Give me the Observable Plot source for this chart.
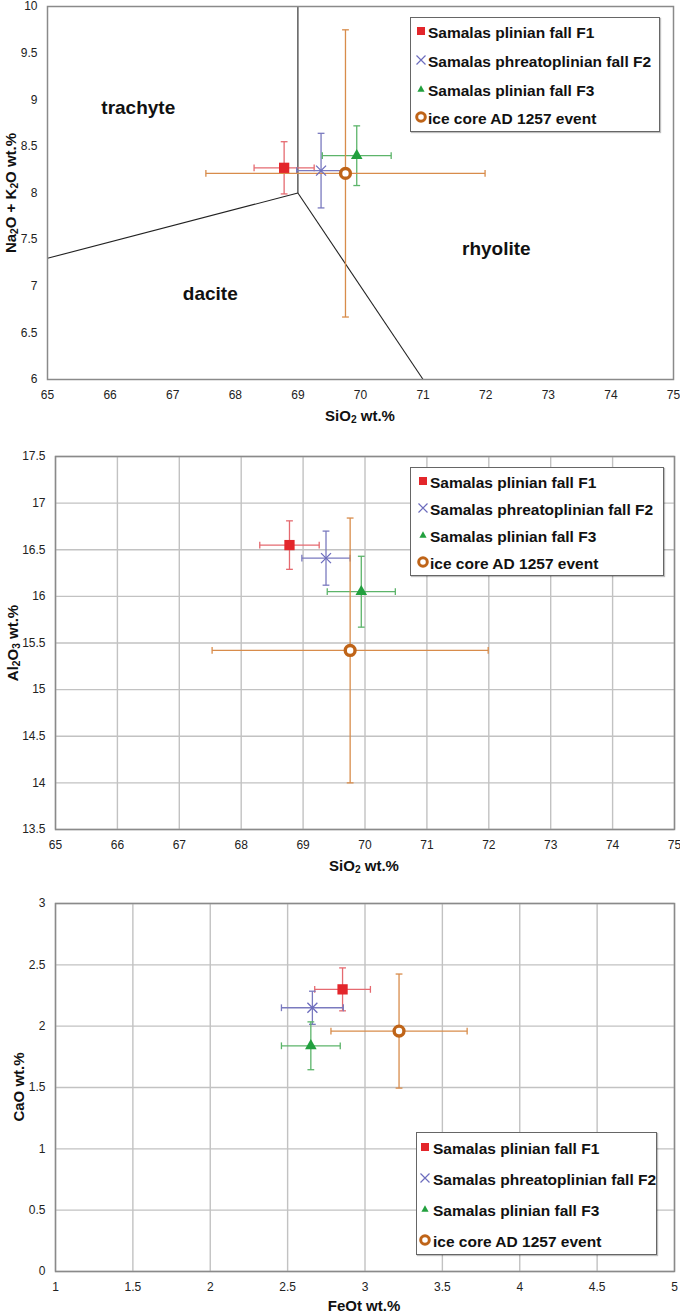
<!DOCTYPE html>
<html>
<head>
<meta charset="utf-8">
<script src="https://cdn.jsdelivr.net/npm/d3@7"></script>
<script src="https://cdn.jsdelivr.net/npm/@observablehq/plot@0.6"></script>
<style>
  html, body { margin: 0; padding: 0; background: #fff; }
  #root { position: relative; width: 680px; height: 1313px; font-family: "Liberation Sans", Arial, sans-serif; }
  .panel { position: absolute; left: 0; }
  .title { position: absolute; font-weight: bold; font-size: 15px; white-space: nowrap; color: #111; transform: translate(-50%, -50%); }
  .ytitle { transform: translate(-50%, -50%) rotate(-90deg); }
  sub { font-size: 0.68em; line-height: 0; vertical-align: -0.22em; }
  .legend { position: absolute; background: #fff; border: 1.5px solid #666; box-shadow: 1px 1px 1px rgba(0,0,0,0.25); box-sizing: border-box; }
  .entry { position: absolute; font-weight: bold; font-size: 15.5px; white-space: nowrap; color: #111; transform: translateY(-50%); }
  .mk { position: absolute; transform: translate(-50%, -50%); }
</style>
</head>
<body>
<div id="root"></div>
<script>
// ---------- data ----------
const series = ["Samalas plinian fall F1", "Samalas phreatoplinian fall F2", "Samalas plinian fall F3", "ice core AD 1257 event"];
const markerSymbols = ["square", "times", "triangle", "circle"];
const markerColors = ["#e3262b", "#6c6cbd", "#22a03e", "#bf6418"];
const errorColors = ["#e56a70", "#7a7abf", "#5cb46a", "#d88c4b"];

// Panel 1: SiO2 vs Na2O + K2O
const sio2 = [68.78, 69.37, 69.94, 69.76];
const sio2Err = [0.48, 0.39, 0.55, 2.23];
const alkali = [8.27, 8.24, 8.40, 8.21];
const alkaliErr = [0.28, 0.40, 0.32, 1.54];

// Panel 2: SiO2 vs Al2O3
const al2o3 = [16.55, 16.41, 16.05, 15.42];
const al2o3Err = [0.26, 0.29, 0.38, 1.42];

// Panel 3: FeOt vs CaO
const feot = [2.855, 2.66, 2.65, 3.22];
const feotErr = [0.18, 0.20, 0.19, 0.44];
const cao = [2.30, 2.15, 1.84, 1.96];
const caoErr = [0.175, 0.135, 0.195, 0.465];

// TAS field boundaries (segments) and field names
const boundaryX1 = [65, 69, 69];
const boundaryY1 = [7.3, 8, 8];
const boundaryX2 = [69, 71, 69];
const boundaryY2 = [8, 6, 10];
const fieldNames = ["trachyte", "dacite", "rhyolite"];
const fieldX = [66.45, 67.6, 72.17];
const fieldY = [8.91, 6.92, 7.40];

// ticks
const sio2Ticks = [65, 66, 67, 68, 69, 70, 71, 72, 73, 74, 75];
const alkaliTicks = [6, 6.5, 7, 7.5, 8, 8.5, 9, 9.5, 10];
const al2o3Ticks = [13.5, 14, 14.5, 15, 15.5, 16, 16.5, 17, 17.5];
const feotTicks = [1, 1.5, 2, 2.5, 3, 3.5, 4, 4.5, 5];
const caoTicks = [0, 0.5, 1, 1.5, 2, 2.5, 3];

// ---------- helpers ----------
const capV = { draw(ctx, size) { const h = Math.sqrt(size / Math.PI); ctx.moveTo(0, -h); ctx.lineTo(0, h); } };
const capH = { draw(ctx, size) { const h = Math.sqrt(size / Math.PI); ctx.moveTo(-h, 0); ctx.lineTo(h, 0); } };

function seriesMarks(xs, exs, ys, eys) {
  const marks = [];
  const rows = series.map((s, i) => ({ s, i, x: xs[i], ex: exs[i], y: ys[i], ey: eys[i] }));
  for (const r of rows) {
    const c = errorColors[r.i];
    marks.push(Plot.link([r], { x1: d => d.x - d.ex, x2: d => d.x + d.ex, y1: "y", y2: "y", stroke: c, strokeWidth: 1.3 }));
    marks.push(Plot.link([r], { x1: "x", x2: "x", y1: d => d.y - d.ey, y2: d => d.y + d.ey, stroke: c, strokeWidth: 1.3 }));
    marks.push(Plot.dot([r, r], { x: (d, j) => j ? d.x + d.ex : d.x - d.ex, y: "y", symbol: capV, r: 3.4, stroke: c, strokeWidth: 1.3, fill: "none" }));
    marks.push(Plot.dot([r, r], { x: "x", y: (d, j) => j ? d.y + d.ey : d.y - d.ey, symbol: capH, r: 3.4, stroke: c, strokeWidth: 1.3, fill: "none" }));
  }
  for (const r of rows) {
    const c = markerColors[r.i];
    const sym = markerSymbols[r.i];
    if (sym === "square") marks.push(Plot.dot([r], { x: "x", y: "y", symbol: "square", r: 5.8, fill: c }));
    if (sym === "times") marks.push(Plot.dot([r], { x: "x", y: "y", symbol: "times", r: 4.6, stroke: c, strokeWidth: 1.3, fill: "none" }));
    if (sym === "triangle") marks.push(Plot.dot([r], { x: "x", y: "y", symbol: "triangle", r: 4.3, fill: c }));
    if (sym === "circle") marks.push(Plot.dot([r], { x: "x", y: "y", symbol: "circle", r: 4.9, fill: "#fff", stroke: c, strokeWidth: 3.4 }));
  }
  return marks;
}

function axes(xTicks, yTicks) {
  return [
    Plot.axisX(xTicks, { tickSize: 0, tickPadding: 11, tickFormat: d => String(d), fontSize: 12, fill: "#222", label: null }),
    Plot.axisY(yTicks, { tickSize: 0, tickPadding: 10, tickFormat: d => String(d), fontSize: 12, fill: "#222", label: null })
  ];
}

const root = document.getElementById("root");
function place(svg, top) {
  const d = document.createElement("div");
  d.className = "panel";
  d.style.top = top + "px";
  d.appendChild(svg);
  root.appendChild(d);
}
function addTitle(html, cx, cy, rotate) {
  const d = document.createElement("div");
  d.className = "title" + (rotate ? " ytitle" : "");
  d.style.left = cx + "px";
  d.style.top = cy + "px";
  d.innerHTML = html;
  root.appendChild(d);
}
function markerSvg(i) {
  const c = markerColors[i];
  let inner = "";
  if (i === 0) inner = `<rect x="3" y="3" width="8" height="8" fill="${c}"/>`;
  if (i === 1) inner = `<path d="M2.5 2.5L11.5 11.5M11.5 2.5L2.5 11.5" stroke="${c}" stroke-width="1.2" fill="none"/>`;
  if (i === 2) inner = `<path d="M7 3.2L10.6 9.8L3.4 9.8Z" fill="${c}"/>`;
  if (i === 3) inner = `<circle cx="7" cy="7" r="4.3" fill="#fff" stroke="${c}" stroke-width="3"/>`;
  return `<svg width="14" height="14" viewBox="0 0 14 14">${inner}</svg>`;
}
function addLegend(left, top, width, height, rowYs, markX, textX) {
  const box = document.createElement("div");
  box.className = "legend";
  Object.assign(box.style, { left: left + "px", top: top + "px", width: width + "px", height: height + "px" });
  root.appendChild(box);
  series.forEach((s, i) => {
    const m = document.createElement("div");
    m.className = "mk";
    m.style.left = markX + "px";
    m.style.top = rowYs[i] + "px";
    m.innerHTML = markerSvg(i);
    root.appendChild(m);
    const t = document.createElement("div");
    t.className = "entry";
    t.style.left = textX + "px";
    t.style.top = rowYs[i] + "px";
    t.textContent = s;
    root.appendChild(t);
  });
}

const font = { fontFamily: "'Liberation Sans', Arial, sans-serif", background: "transparent", overflow: "visible" };

// ---------- Panel 1 ----------
const p1 = Plot.plot({
  width: 680, height: 440,
  marginTop: 6, marginBottom: 61, marginLeft: 47, marginRight: 7,
  style: font,
  x: { domain: [65, 75] },
  y: { domain: [6, 10] },
  marks: [
    Plot.link(boundaryX1.map((_, i) => i), { x1: i => boundaryX1[i], y1: i => boundaryY1[i], x2: i => boundaryX2[i], y2: i => boundaryY2[i], stroke: "#222", strokeWidth: 1.1 }),
    Plot.text(fieldNames, { x: (d, i) => fieldX[i], y: (d, i) => fieldY[i], text: d => d, fontSize: 19, fontWeight: "bold", fill: "#111" }),
    ...seriesMarks(sio2, sio2Err, alkali, alkaliErr),
    Plot.frame({ stroke: "#8a8a8a", strokeWidth: 1.5 }),
    ...axes(sio2Ticks, alkaliTicks)
  ]
});
place(p1, 0);

// ---------- Panel 2 ----------
const p2 = Plot.plot({
  width: 680, height: 440,
  marginTop: 16, marginBottom: 51, marginLeft: 55, marginRight: 6,
  style: font,
  x: { domain: [65, 75] },
  y: { domain: [13.5, 17.5] },
  marks: [
    Plot.gridX(sio2Ticks, { stroke: "#c2c2c2", strokeOpacity: 1, strokeWidth: 1.4 }),
    Plot.gridY(al2o3Ticks, { stroke: "#c2c2c2", strokeOpacity: 1, strokeWidth: 1.4 }),
    ...seriesMarks(sio2, sio2Err, al2o3, al2o3Err),
    Plot.frame({ stroke: "#8a8a8a", strokeWidth: 1.5 }),
    ...axes(sio2Ticks, al2o3Ticks)
  ]
});
place(p2, 440);

// ---------- Panel 3 ----------
const p3 = Plot.plot({
  width: 680, height: 433,
  marginTop: 23, marginBottom: 42, marginLeft: 55, marginRight: 6,
  style: font,
  x: { domain: [1, 5] },
  y: { domain: [0, 3] },
  marks: [
    Plot.gridX(feotTicks, { stroke: "#c2c2c2", strokeOpacity: 1, strokeWidth: 1.4 }),
    Plot.gridY(caoTicks, { stroke: "#c2c2c2", strokeOpacity: 1, strokeWidth: 1.4 }),
    ...seriesMarks(feot, feotErr, cao, caoErr),
    Plot.frame({ stroke: "#8a8a8a", strokeWidth: 1.5 }),
    ...axes(feotTicks, caoTicks)
  ]
});
place(p3, 880);

// ---------- titles ----------
addTitle("SiO<sub>2</sub> wt.%", 360, 415, false);
addTitle("Na<sub>2</sub>O + K<sub>2</sub>O wt.%", 10, 193, true);
addTitle("SiO<sub>2</sub> wt.%", 364, 865, false);
addTitle("Al<sub>2</sub>O<sub>3</sub> wt.%", 12, 643, true);
addTitle("FeOt wt.%", 364, 1305, false);
addTitle("CaO wt.%", 18, 1087, true);

// ---------- legends ----------
addLegend(410, 17, 250, 115, [33, 62, 91, 119], 421, 428);
addLegend(410, 467, 254, 109, [483, 510, 537, 564], 423, 430);
addLegend(416, 1132, 241, 123, [1149, 1180, 1211, 1242], 425, 433);
</script>
</body>
</html>
